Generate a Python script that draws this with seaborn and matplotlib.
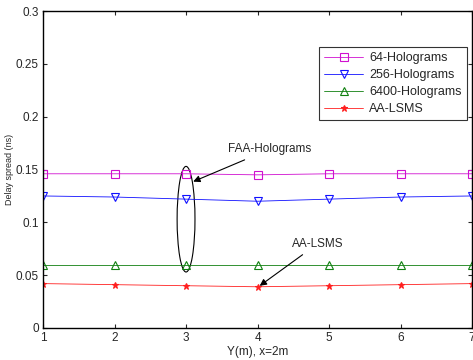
import matplotlib
matplotlib.use("Agg")
import matplotlib.pyplot as plt
from matplotlib.patches import Ellipse
import numpy as np
import pandas as pd
import seaborn as sns

y_pos = [1, 2, 3, 4, 5, 6, 7]
holo64 = [0.146, 0.146, 0.146, 0.145, 0.146, 0.146, 0.146]
holo256 = [0.125, 0.124, 0.122, 0.120, 0.122, 0.124, 0.125]
holo6400 = [0.060, 0.060, 0.060, 0.060, 0.060, 0.060, 0.060]
aa_lsms = [0.042, 0.041, 0.040, 0.039, 0.040, 0.041, 0.042]
series_names = ["64-Holograms", "256-Holograms", "6400-Holograms", "AA-LSMS"]
x_ticks = [1, 2, 3, 4, 5, 6, 7]
y_ticks = [0, 0.05, 0.1, 0.15, 0.2, 0.25, 0.3]
y_ticklabels = ["0", "0.05", "0.1", "0.15", "0.2", "0.25", "0.3"]

sns.set_style("ticks")
plt.rcParams['font.family'] = ['Liberation Sans', 'DejaVu Sans']

fig = plt.figure(figsize=(4.73, 3.6), dpi=100)
ax = fig.add_axes([0.091, 0.089, 0.907, 0.880])

styles = [
    dict(color="#d010d0", marker="s", mfc="none", ms=5.5),
    dict(color="#1010ff", marker="v", mfc="none", ms=6),
    dict(color="#108010", marker="^", mfc="none", ms=6),
    dict(color="#ff2020", marker="*", mfc="#ff2020", ms=5),
]
for name, vals, st in zip(series_names, [holo64, holo256, holo6400, aa_lsms], styles):
    df = pd.DataFrame({"x": y_pos, "y": vals})
    sns.lineplot(data=df, x="x", y="y", ax=ax, label=name, color=st["color"],
                 marker=st["marker"], markerfacecolor=st["mfc"], markeredgecolor=st["color"],
                 markersize=st["ms"], markeredgewidth=0.8, linewidth=0.6, linestyle="-")

ax.set_xlim(1, 7)
ax.set_ylim(0, 0.3)
ax.set_xticks(x_ticks)
ax.set_xticklabels([str(v) for v in x_ticks])
ax.set_yticks(y_ticks)
ax.set_yticklabels(y_ticklabels)
ax.tick_params(direction="in", top=True, right=True, labelsize=8.5, length=3, width=0.8, pad=3)
for s in ax.spines.values():
    s.set_linewidth(1.0)
    s.set_color("black")
ax.set_xlabel("Y(m), x=2m", fontsize=8.5, labelpad=1)
ax.set_ylabel("Delay spread (ns)", fontsize=6.5, labelpad=1)

leg = ax.legend(loc="upper right", bbox_to_anchor=(0.988, 0.886), borderaxespad=0,
                fontsize=9, frameon=True,
                fancybox=False, edgecolor="black", handlelength=3.1, labelspacing=0.4,
                borderpad=0.4, handletextpad=0.5)
leg.get_frame().set_linewidth(0.8)

ell = Ellipse((3, 0.103), width=0.25, height=0.100, fill=False, edgecolor="black", linewidth=0.8)
ax.add_patch(ell)
ax.annotate("FAA-Holograms", xy=(3.1, 0.1386), xytext=(3.58, 0.169), fontsize=8.5,
            ha="left", va="center",
            arrowprops=dict(arrowstyle="-|>", color="black", lw=0.8, mutation_scale=10,
                            shrinkA=2, shrinkB=0))
ax.annotate("AA-LSMS", xy=(4.03, 0.0399), xytext=(4.48, 0.0797), fontsize=8.5,
            ha="left", va="center",
            arrowprops=dict(arrowstyle="-|>", color="black", lw=0.8, mutation_scale=10,
                            shrinkA=2, shrinkB=0))

fig.savefig("out.png", dpi=100)
